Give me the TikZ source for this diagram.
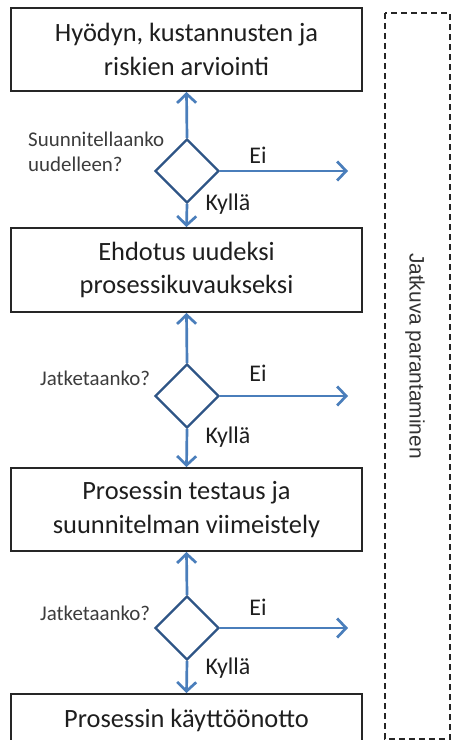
\documentclass[tikz,border=0pt]{standalone}
\usepackage{fontspec}
\setmainfont{Carlito}
\newfontfamily\sidefont{Liberation Sans}
\usetikzlibrary{shapes.geometric,arrows.meta}
\definecolor{flowblue}{HTML}{4A7EBB}
\definecolor{diamblue}{HTML}{2E5586}
\definecolor{boxtext}{HTML}{1E1E1E}
\definecolor{qtext}{HTML}{3C3C3C}
\tikzset{
  stepbox/.style={draw=black!85, line width=2pt, minimum width=351bp,
    inner sep=0pt, align=center, text=boxtext,
    font=\fontsize{26.5}{34}\selectfont},
  decision/.style={diamond, draw=diamblue, line width=2.4pt,
    minimum width=64bp, minimum height=64bp, inner sep=0pt},
  flow/.style={draw=flowblue, line width=2.7pt,
    -{Straight Barb[length=9bp, width=19bp, line width=2.7pt]}},
  answer/.style={text=boxtext, font=\fontsize{24}{28}\selectfont, inner sep=0pt},
  question/.style={text=qtext, font=\fontsize{21}{25}\selectfont, inner sep=0pt,
    anchor=west, align=left},
}
\begin{document}
\begin{tikzpicture}[x=1bp, y=-1bp]
\useasboundingbox (0,0) rectangle (453,740);

% continuous improvement frame
\draw[black!85, line width=1.6pt, dash pattern=on 6bp off 4bp]
  (385,13) rectangle (450,739);
\node[rotate=-90, text=black!80, font=\sidefont\fontsize{21}{25}\selectfont, inner sep=0pt]
  (side) at (415,356) {Jatkuva parantaminen};

% process steps
\node[stepbox, minimum height=83bp] (b1) at (186.5,49.5)
  {Hyödyn, kustannusten ja\\riskien arviointi};
\node[stepbox, minimum height=84bp] (b2) at (186.5,270)
  {Ehdotus uudeksi\\prosessikuvaukseksi};
\node[stepbox, minimum height=83bp] (b3) at (186.5,509.5)
  {Prosessin testaus ja\\suunnitelman viimeistely};
\node[stepbox, minimum height=52bp] (b4) at (186.5,720)
  {Prosessin käyttöönotto};

% decisions
\node[decision] (d1) at (187,171) {};
\node[decision] (d2) at (187,396) {};
\node[decision] (d3) at (187,628) {};

\coordinate (e1) at (348,171);
\coordinate (e2) at (348,396);
\coordinate (e3) at (348,628);

% connectors
\draw[flow] (d1.north) -- (b1.south);
\draw[flow] (d1.south) -- (b2.north);
\draw[flow] (d1.east) -- (e1);
\draw[flow] (d2.north) -- (b2.south);
\draw[flow] (d2.south) -- (b3.north);
\draw[flow] (d2.east) -- (e2);
\draw[flow] (d3.north) -- (b3.south);
\draw[flow] (d3.south) -- (b4.north);
\draw[flow] (d3.east) -- (e3);

% labels
\node[answer] (ei1) at (258,155) {Ei};
\node[answer] (ei2) at (258,373) {Ei};
\node[answer] (ei3) at (258,607) {Ei};
\node[answer] (k1) at (228,204) {Kyllä};
\node[answer] (k2) at (228,437) {Kyllä};
\node[answer] (k3) at (228,668) {Kyllä};
\node[question] (q1) at (28,152) {Suunnitellaanko\\uudelleen?};
\node[question] (q2) at (40,378) {Jatketaanko?};
\node[question] (q3) at (40,613) {Jatketaanko?};
\end{tikzpicture}
\end{document}
